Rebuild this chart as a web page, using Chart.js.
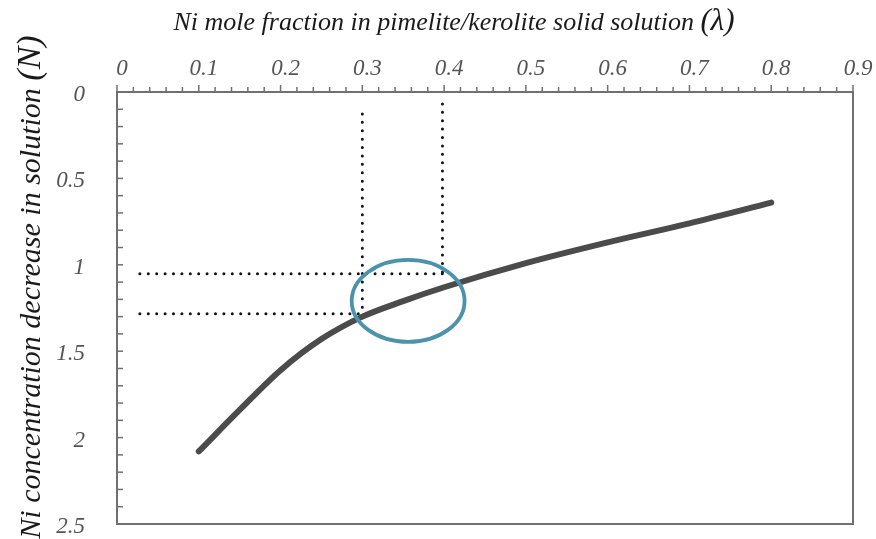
<!DOCTYPE html>
<html>
<head>
<meta charset="utf-8">
<script src="https://cdn.jsdelivr.net/npm/chart.js@4.4.1/dist/chart.umd.min.js"></script>
<style>
  html, body { margin: 0; padding: 0; background: #fff; }
</style>
</head>
<body>
<canvas id="niChart" width="876" height="539"></canvas>
<script>
// Ni mole fraction (lambda) vs Ni concentration decrease (N)
var lambdaVals = [0.1, 0.15, 0.2, 0.25, 0.3, 0.35, 0.4, 0.5, 0.6, 0.7, 0.8];
var nVals      = [2.08, 1.84, 1.61, 1.43, 1.30, 1.21, 1.13, 0.99, 0.87, 0.76, 0.64];

// dotted guide lines (lambda, N)
var guideUpperH = [[0.028, 1.052], [0.40, 1.052]];
var guideLowerH = [[0.028, 1.283], [0.30, 1.283]];
var guideLeftV  = [[0.30, 0.127], [0.30, 1.283]];
var guideRightV = [[0.398, 0.069], [0.398, 1.06]];

// highlighted region (center lambda, center N, radius lambda, radius N)
var ellipseMark = [0.356, 1.209, 0.069, 0.237];

var xMin = 0, xMax = 0.9, xStep = 0.02;
var yMin = 0, yMax = 2.5, yStep = 0.1;

var xTitle = ['Ni mole fraction in pimelite/kerolite solid solution ', '(\u03bb)'];
var yTitle = ['Ni concentration decrease in solution ', '(N)'];

var serif = "'Liberation Serif', 'DejaVu Serif', serif";
var axisGray = '#707070';

function pts(arr) {
    return arr.map(function(p) { return { x: p[0], y: p[1] }; });
}

function dotted(arr) {
    return {
        data: pts(arr),
        borderColor: '#111',
        borderWidth: 3,
        borderDash: [0, 8.4],
        borderCapStyle: 'round',
        pointRadius: 0,
        tension: 0
    };
}

// draws "text (sym)" with the bracketed part larger, centred on 0,0
function drawTitle(ctx, parts, size, bigSize) {
    var f1 = 'italic ' + size + 'px ' + serif;
    var f2 = 'italic ' + bigSize + 'px ' + serif;
    ctx.font = f1;
    var w1 = ctx.measureText(parts[0]).width;
    ctx.font = f2;
    var w2 = ctx.measureText(parts[1]).width;
    var x0 = -(w1 + w2) / 2;
    ctx.textBaseline = 'alphabetic';
    ctx.textAlign = 'left';
    ctx.fillStyle = '#1a1a1a';
    ctx.font = f1;
    ctx.fillText(parts[0], x0, 0);
    ctx.font = f2;
    ctx.fillText(parts[1], x0 + w1, 0);
}

// box, inward/outward tick marks, ellipse and axis titles
var framePlugin = {
    id: 'frame',
    afterDatasetsDraw: function(chart) {
        var ctx = chart.ctx;
        var a = chart.chartArea;
        var xs = chart.scales.x, ys = chart.scales.y;
        ctx.save();

        // ellipse
        var cx = xs.getPixelForValue(ellipseMark[0]);
        var cy = ys.getPixelForValue(ellipseMark[1]);
        var rx = Math.abs(xs.getPixelForValue(ellipseMark[0] + ellipseMark[2]) - cx);
        var ry = Math.abs(ys.getPixelForValue(ellipseMark[1] + ellipseMark[3]) - cy);
        ctx.strokeStyle = '#4a93aa';
        ctx.lineWidth = 3.8;
        ctx.beginPath();
        ctx.ellipse(cx, cy, rx, ry, 0, 0, Math.PI * 2);
        ctx.stroke();

        // box
        ctx.strokeStyle = axisGray;
        ctx.lineWidth = 2;
        ctx.strokeRect(a.left, a.top, a.right - a.left, a.bottom - a.top);

        // top axis ticks (outward)
        ctx.lineWidth = 1.5;
        xs.ticks.forEach(function(t) {
            var px = xs.getPixelForValue(t.value);
            var major = Math.round(t.value * 50) % 5 === 0;
            ctx.beginPath();
            ctx.moveTo(px, a.top);
            ctx.lineTo(px, a.top - (major ? 7 : 5));
            ctx.stroke();
        });
        // left axis ticks (inward)
        ys.ticks.forEach(function(t) {
            var py = ys.getPixelForValue(t.value);
            ctx.beginPath();
            ctx.moveTo(a.left, py);
            ctx.lineTo(a.left + 6, py);
            ctx.stroke();
        });

        // axis titles
        ctx.save();
        ctx.translate((a.left + a.right) / 2 - 31, 30);
        drawTitle(ctx, xTitle, 26, 31);
        ctx.restore();

        ctx.save();
        ctx.translate(40, (a.top + a.bottom) / 2 - 21);
        ctx.rotate(-Math.PI / 2);
        drawTitle(ctx, yTitle, 30, 34);
        ctx.restore();

        ctx.restore();
    }
};

new Chart(document.getElementById('niChart').getContext('2d'), {
    type: 'line',
    data: {
        datasets: [
            {
                data: lambdaVals.map(function(v, i) { return { x: v, y: nVals[i] }; }),
                borderColor: '#4b4b4b',
                borderWidth: 6,
                borderCapStyle: 'round',
                cubicInterpolationMode: 'monotone',
                pointRadius: 0
            },
            dotted(guideUpperH),
            dotted(guideLowerH),
            dotted(guideLeftV),
            dotted(guideRightV)
        ]
    },
    options: {
        responsive: false,
        animation: false,
        layout: { padding: { top: 0, left: 0, right: 23, bottom: 15 } },
        plugins: {
            legend: { display: false },
            tooltip: { enabled: false }
        },
        scales: {
            x: {
                type: 'linear',
                position: 'top',
                min: xMin,
                max: xMax,
                afterBuildTicks: function(s) {
                    var t = [];
                    for (var i = 0; i <= Math.round((xMax - xMin) / xStep); i++) {
                        t.push({ value: xMin + i * xStep });
                    }
                    s.ticks = t;
                },
                afterFit: function(s) {
                    s.height = 92;
                    s.paddingLeft = 0;
                    s.paddingRight = 0;
                },
                grid: { display: false, drawTicks: false },
                border: { display: false },
                ticks: {
                    autoSkip: false,
                    maxRotation: 0,
                    padding: 9,
                    labelOffset: 5,
                    color: '#555',
                    font: { family: serif, style: 'italic', size: 23 },
                    callback: function(v) {
                        var k = Math.round(v * 50);
                        if (k % 5 !== 0) return '';
                        return k === 0 ? '0' : '0.' + (k / 5);
                    }
                },
                title: { display: false }
            },
            y: {
                type: 'linear',
                reverse: true,
                min: yMin,
                max: yMax,
                afterBuildTicks: function(s) {
                    var t = [];
                    for (var i = 0; i <= Math.round((yMax - yMin) / yStep); i++) {
                        t.push({ value: yMin + i * yStep });
                    }
                    s.ticks = t;
                },
                afterFit: function(s) {
                    s.width = 117;
                    s.paddingTop = 0;
                    s.paddingBottom = 0;
                },
                grid: { display: false, drawTicks: false },
                border: { display: false },
                ticks: {
                    autoSkip: false,
                    padding: 32,
                    labelOffset: 3,
                    color: '#555',
                    font: { family: serif, style: 'italic', size: 23 },
                    callback: function(v) {
                        var k = Math.round(v * 10);
                        if (k % 5 !== 0) return '';
                        return String(k / 10);
                    }
                },
                title: { display: false }
            }
        }
    },
    plugins: [framePlugin]
});
</script>
</body>
</html>
